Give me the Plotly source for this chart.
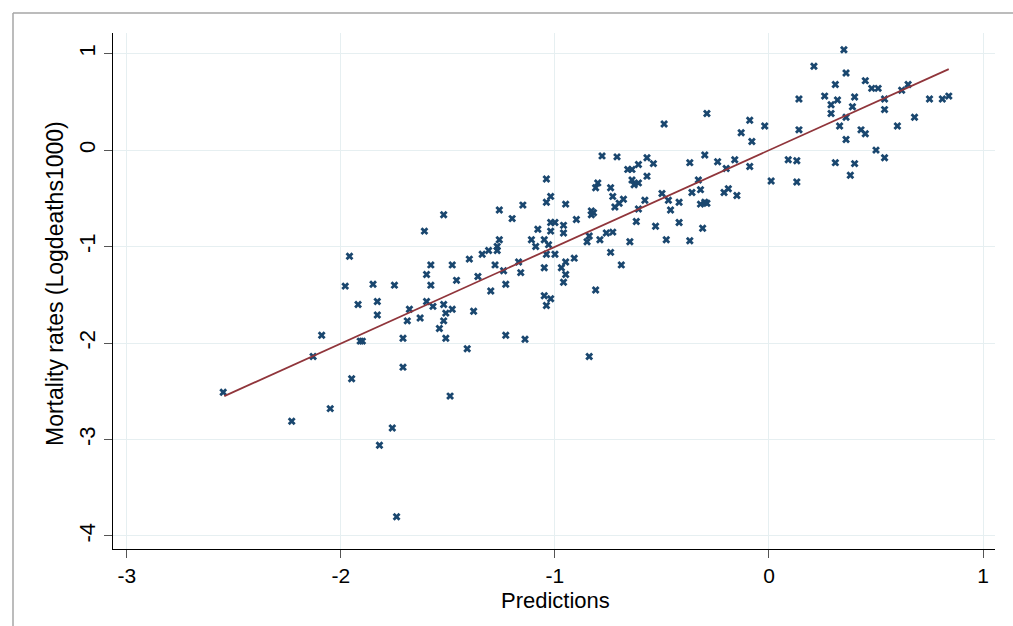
import plotly.graph_objects as go

predictions = [
    -1.52, -1.61, -1.96, -1.58, -1.60, -1.98, -1.85, -1.75, -1.58, -1.92,
    -1.83, -1.83, -1.60, -1.57, -1.52, -1.51, -1.68, -1.69, -1.63, -1.52,
    -1.54, -1.51, -1.71, -2.09, -1.91, -1.90, -2.13, -1.71, -1.95, -2.55,
    -2.05, -2.23, -1.76, -1.82, -1.74, -1.49,
    -0.78, -0.71, -0.57, -0.54, -0.61, -0.66, -0.64, -0.37, -0.30, -0.57,
    -0.64, -0.61, -0.63, -0.80, -0.81, -0.74, -1.04, -1.02, -1.04, -0.73,
    -0.68, -0.70, -0.72, -0.95, -1.15, -1.26, -1.20, -0.90, -0.83, -0.82,
    -0.83, -0.58, -0.61, -0.50, -0.47, -0.42, -0.46, -0.36, -0.33, -0.32,
    -0.30, -0.29, -0.62, -0.42, -0.53, -0.31, -1.02, -1.00, -1.02, -0.96,
    -0.96, -1.08, -1.11, -1.05, -1.09, -1.03, -1.04, -1.00, -0.84, -0.85,
    -0.79, -0.76, -0.73, -0.65, -0.48, -0.37, -0.74, -0.69, -0.91, -0.95,
    -0.97, -0.95, -0.96, -1.05, -1.16, -1.17, -1.26, -1.27, -1.27, -1.31,
    -1.34, -1.40, -1.48, -1.46, -1.36, -1.28, -1.24, -1.23, -1.30, -1.05,
    -1.02, -1.04, -0.81, -1.38, -1.23, -1.14, -1.41, -0.84, -1.48,
    -0.49,
    0.35, 0.21, 0.36, 0.45, 0.31, 0.48, 0.51, 0.65, 0.62, 0.26,
    0.32, 0.40, 0.29, 0.39, 0.54, 0.54, 0.75, 0.81, 0.84, 0.68,
    0.60, 0.14, 0.29, 0.36, 0.33, 0.43, 0.45, 0.14, 0.36, 0.50,
    0.54, 0.31, 0.40, 0.38, 0.09, 0.13, 0.13, 0.01, -0.02, -0.09,
    -0.13, -0.08, -0.29, -0.24, -0.20, -0.16, -0.09, -0.32, -0.19, -0.21,
    -0.15,
]
mortality = [
    -0.67, -0.84, -1.10, -1.19, -1.29, -1.41, -1.39, -1.40, -1.40, -1.60,
    -1.57, -1.71, -1.57, -1.62, -1.60, -1.69, -1.65, -1.77, -1.74, -1.77,
    -1.85, -1.95, -1.95, -1.92, -1.98, -1.98, -2.14, -2.25, -2.37, -2.51,
    -2.68, -2.81, -2.88, -3.06, -3.80, -2.55,
    -0.06, -0.07, -0.08, -0.14, -0.15, -0.20, -0.20, -0.13, -0.05, -0.27,
    -0.31, -0.34, -0.36, -0.34, -0.39, -0.39, -0.30, -0.48, -0.54, -0.48,
    -0.51, -0.55, -0.59, -0.56, -0.57, -0.62, -0.71, -0.72, -0.63, -0.65,
    -0.67, -0.52, -0.61, -0.45, -0.52, -0.54, -0.62, -0.44, -0.31, -0.56,
    -0.54, -0.55, -0.74, -0.75, -0.79, -0.81, -0.75, -0.75, -0.84, -0.78,
    -0.86, -0.82, -0.93, -0.93, -1.00, -0.98, -1.08, -1.08, -0.89, -0.95,
    -0.93, -0.86, -0.85, -0.95, -0.93, -0.94, -1.06, -1.19, -1.12, -1.16,
    -1.22, -1.29, -1.37, -1.22, -1.27, -1.16, -0.93, -1.00, -1.04, -1.04,
    -1.08, -1.13, -1.19, -1.35, -1.31, -1.19, -1.25, -1.39, -1.46, -1.51,
    -1.54, -1.61, -1.45, -1.67, -1.92, -1.96, -2.06, -2.14, -1.65,
    0.27,
    1.04, 0.87, 0.80, 0.72, 0.68, 0.64, 0.64, 0.68, 0.62, 0.56,
    0.52, 0.55, 0.47, 0.45, 0.53, 0.42, 0.53, 0.53, 0.56, 0.34,
    0.25, 0.53, 0.38, 0.34, 0.25, 0.21, 0.17, 0.21, 0.11, 0.00,
    -0.08, -0.13, -0.14, -0.26, -0.10, -0.11, -0.33, -0.32, 0.25, 0.31,
    0.18, 0.09, 0.38, -0.12, -0.19, -0.10, -0.17, -0.41, -0.40, -0.44,
    -0.47,
]

# Fitted line endpoints
fit_x = [-2.545, 0.84]
fit_y = [-2.55, 0.84]

x_ticks = [-3, -2, -1, 0, 1]
y_ticks = [1, 0, -1, -2, -3, -4]
x_title = "Predictions"
y_title = "Mortality rates (Logdeaths1000)"

FONT = "Liberation Sans, Arial, sans-serif"
NAVY = "#1a476f"
MAROON = "#90353b"
GRID = "#e6eff1"

fig = go.Figure()
fig.add_trace(go.Scatter(
    x=predictions, y=mortality, mode="markers",
    marker=dict(symbol="x", size=7, color=NAVY, line=dict(width=0)),
    showlegend=False, hoverinfo="x+y",
))
fig.add_trace(go.Scatter(
    x=fit_x, y=fit_y, mode="lines",
    line=dict(color=MAROON, width=1.8),
    showlegend=False,
))

W, H = 1013, 626
L, R, T, B = 113, 18, 33, 77
pw, ph = W - L - R, H - T - B

def px_x(px):
    return (px - L) / pw

def px_y(py):
    return (H - B - py) / ph

frame = dict(color="#a6a6a6", width=1.5)
fig.add_shape(type="line", xref="paper", yref="paper",
              x0=px_x(13), y0=px_y(13), x1=px_x(1013), y1=px_y(13), line=frame)
fig.add_shape(type="line", xref="paper", yref="paper",
              x0=px_x(13), y0=px_y(13), x1=px_x(13), y1=px_y(626), line=frame)

fig.add_annotation(text=x_title, xref="paper", yref="paper",
                   x=px_x(555), y=px_y(600), xanchor="center", yanchor="middle",
                   showarrow=False, font=dict(size=22))
fig.add_annotation(text=y_title, xref="paper", yref="paper",
                   x=px_x(55), y=px_y(284), xanchor="center", yanchor="middle",
                   textangle=-90, showarrow=False, font=dict(size=23))

fig.update_layout(
    width=W, height=H,
    margin=dict(l=L, r=R, t=T, b=B),
    paper_bgcolor="white", plot_bgcolor="white",
    font=dict(family=FONT, size=22, color="black"),
)
fig.update_xaxes(
    range=[-3.065, 1.056], tickvals=x_ticks, ticktext=[str(v) for v in x_ticks],
    showgrid=True, gridcolor=GRID, gridwidth=1, zeroline=False,
    showline=True, linecolor="black", linewidth=1.3,
    ticks="outside", ticklen=8, tickwidth=1.3, tickcolor="#555",
    tickfont=dict(size=21),
)
fig.update_yaxes(
    range=[-4.135, 1.214], tickvals=y_ticks, ticktext=[str(v) for v in y_ticks],
    showgrid=True, gridcolor=GRID, gridwidth=1, zeroline=False,
    showline=True, linecolor="black", linewidth=1.3,
    ticks="outside", ticklen=8, tickwidth=1.3, tickcolor="#555",
    tickangle=-90, tickfont=dict(size=22),
)

fig.write_html("out.html")
